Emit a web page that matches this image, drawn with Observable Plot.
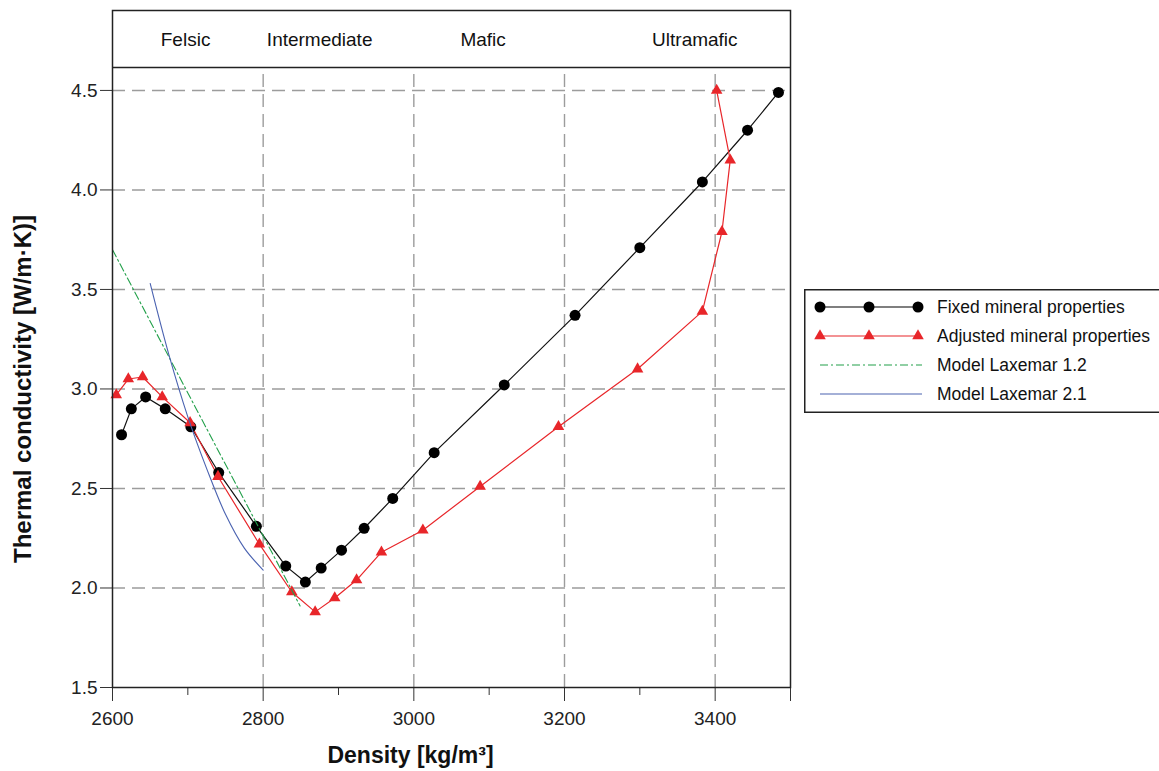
<!DOCTYPE html>
<html><head><meta charset="utf-8">
<script src="https://cdn.jsdelivr.net/npm/d3@7"></script>
<script src="https://cdn.jsdelivr.net/npm/@observablehq/plot@0.6"></script>
<style>
html,body{margin:0;padding:0;background:#fff;overflow:hidden}
#wrap{position:relative;width:1159px;height:771px;font-family:"Liberation Sans",Arial,sans-serif}
#legend{position:absolute;left:804px;top:289px}
</style></head>
<body><div id="wrap"></div>
<script>
// ---- data ----
const fixedDensity = [2612, 2625, 2644, 2670, 2704, 2741, 2791, 2830, 2856, 2877, 2904, 2934, 2972, 3027, 3120, 3214, 3300, 3383, 3443, 3484];
const fixedK       = [2.77, 2.90, 2.96, 2.90, 2.81, 2.58, 2.31, 2.11, 2.03, 2.10, 2.19, 2.30, 2.45, 2.68, 3.02, 3.37, 3.71, 4.04, 4.30, 4.49];
const adjDensity   = [2605, 2621, 2640, 2666, 2703, 2740, 2795, 2838, 2869, 2895, 2924, 2957, 3012, 3088, 3192, 3297, 3383, 3409, 3420, 3402];
const adjK         = [2.97, 3.05, 3.06, 2.96, 2.83, 2.56, 2.22, 1.98, 1.88, 1.95, 2.04, 2.18, 2.29, 2.51, 2.81, 3.10, 3.39, 3.79, 4.15, 4.50];
const model12Density = [2600, 2700, 2849];
const model12K       = [3.70, 2.98, 1.91];
const model21Density = [2650, 2675, 2700, 2725, 2750, 2775, 2800];
const model21K       = [3.53, 3.17, 2.86, 2.60, 2.37, 2.20, 2.09];
const zoneNames   = ["Felsic", "Intermediate", "Mafic", "Ultramafic"];
const zoneCenters = [2697, 2875, 3092, 3373];
const xMajorTicks = [2600, 2800, 3000, 3200, 3400];
const xMinorTicks = [2700, 2900, 3100, 3300];
const xEndTick    = [3500];
const yTicks      = [1.5, 2.0, 2.5, 3.0, 3.5, 4.0, 4.5];
const gridX       = [2800, 3000, 3200, 3400];
const gridY       = [2.0, 2.5, 3.0, 3.5, 4.0, 4.5];
const xDomain = [2600, 3500];
const yDomain = [1.5, 4.9016];      // includes the zone header band
const headerBoundary = 4.6155;      // bottom of zone header band
const seriesNames = ["Fixed mineral properties", "Adjusted mineral properties", "Model Laxemar 1.2", "Model Laxemar 2.1"];
const xLabel = "Density [kg/m³]";
const yLabel = "Thermal conductivity [W/m·K)]";

const RED = "#e8262a", GREEN = "#22a04a", BLUE = "#4a62b0";

const fixed = fixedDensity.map((d, i) => ({x: d, y: fixedK[i]}));
const adj = adjDensity.map((d, i) => ({x: d, y: adjK[i]}));
const m12 = model12Density.map((d, i) => ({x: d, y: model12K[i]}));
const m21 = model21Density.map((d, i) => ({x: d, y: model21K[i]}));

const chart = Plot.plot({
  width: 1159, height: 771,
  marginLeft: 112, marginRight: 369, marginTop: 10, marginBottom: 84,
  x: {domain: xDomain},
  y: {domain: yDomain},
  style: {fontFamily: "'Liberation Sans', Arial, sans-serif", fontSize: "19px", color: "#222", background: "#fff"},
  marks: [
    Plot.ruleY(gridY, {stroke: "#9c9c9c", strokeWidth: 1.4, strokeDasharray: "13,7"}),
    Plot.ruleX(gridX, {y1: yDomain[0], y2: headerBoundary, stroke: "#9c9c9c", strokeWidth: 1.4, strokeDasharray: "13,7"}),
    Plot.ruleY([headerBoundary], {stroke: "#222", strokeWidth: 1.4}),
    Plot.text(zoneNames, {x: (d, i) => zoneCenters[i], text: d => d, frameAnchor: "top", lineAnchor: "middle", dy: 29, fontSize: 19, fill: "#111"}),
    Plot.axisY(yTicks, {tickSize: 12, tickPadding: 3, tickFormat: d => d.toFixed(1), label: null, fontSize: 19, stroke: "#333"}),
    Plot.axisX(xMajorTicks, {tickSize: 14, tickPadding: 10, tickFormat: d => String(d), label: null, fontSize: 19, stroke: "#333"}),
    Plot.axisX(xEndTick, {tickSize: 14, tickFormat: () => "", label: null, stroke: "#333"}),
    Plot.axisX(xMinorTicks, {tickSize: 8, tickFormat: () => "", label: null, stroke: "#333"}),
    Plot.line(fixed, {x: "x", y: "y", stroke: "#111", strokeWidth: 1.2}),
    Plot.line(adj, {x: "x", y: "y", stroke: RED, strokeWidth: 1.2}),
    Plot.dot(fixed, {x: "x", y: "y", r: 5.5, fill: "#000", stroke: "none"}),
    Plot.dot(adj, {x: "x", y: "y", r: 4.3, symbol: "triangle", fill: RED, stroke: "none"}),
    Plot.line(m12, {x: "x", y: "y", stroke: GREEN, strokeWidth: 1.1, strokeDasharray: "8,3,2,3"}),
    Plot.line(m21, {x: "x", y: "y", stroke: BLUE, strokeWidth: 1.1, curve: "catmull-rom"}),
    Plot.frame({stroke: "#222", strokeWidth: 1.5}),
    Plot.text([xLabel], {frameAnchor: "bottom", lineAnchor: "middle", textAnchor: "middle", dx: -41, dy: 68, fontSize: 23, fontWeight: "bold", fill: "#111"}),
    Plot.text([yLabel], {frameAnchor: "left", lineAnchor: "middle", textAnchor: "middle", rotate: -90, dx: -89, dy: 40, fontSize: 24, fontWeight: "bold", fill: "#111"})
  ]
});
const wrap = document.getElementById("wrap");
wrap.appendChild(chart);

// ---- legend ----
const ns = "http://www.w3.org/2000/svg";
const lg = document.createElementNS(ns, "svg");
lg.setAttribute("id", "legend");
lg.setAttribute("width", 360); lg.setAttribute("height", 124);
lg.style.position = "absolute"; lg.style.left = "804px"; lg.style.top = "289px";
const L = d3.select(lg);
L.append("rect").attr("x", 0.75).attr("y", 0.75).attr("width", 400).attr("height", 122.5)
  .attr("fill", "#fff").attr("stroke", "#222").attr("stroke-width", 1.5);
const rowsY = [18, 47, 76, 105];
const mx = [16, 65, 114];
const tri = d3.symbol(d3.symbolTriangle, Math.PI * 4.3 * 4.3)();
seriesNames.forEach((name, i) => {
  const y = rowsY[i];
  const g = L.append("g");
  if (i === 0) {
    g.append("line").attr("x1", 16).attr("x2", 114).attr("y1", y).attr("y2", y).attr("stroke", "#555").attr("stroke-width", 1.5);
    mx.forEach(x => g.append("circle").attr("cx", x).attr("cy", y).attr("r", 5.5).attr("fill", "#000"));
  } else if (i === 1) {
    g.append("line").attr("x1", 16).attr("x2", 114).attr("y1", y).attr("y2", y).attr("stroke", RED).attr("stroke-width", 1.2);
    mx.forEach(x => g.append("path").attr("d", tri).attr("transform", `translate(${x},${y})`).attr("fill", RED));
  } else if (i === 2) {
    g.append("line").attr("x1", 16).attr("x2", 118).attr("y1", y).attr("y2", y).attr("stroke", GREEN).attr("stroke-width", 1.1).attr("stroke-dasharray", "8,3,2,3");
  } else {
    g.append("line").attr("x1", 16).attr("x2", 118).attr("y1", y).attr("y2", y).attr("stroke", BLUE).attr("stroke-width", 1.1);
  }
  g.append("text").attr("x", 133).attr("y", y).attr("dy", "0.35em")
    .attr("font-family", "'Liberation Sans', Arial, sans-serif").attr("font-size", 17.5).attr("fill", "#111").text(name);
});
wrap.appendChild(lg);
</script>
</body></html>
